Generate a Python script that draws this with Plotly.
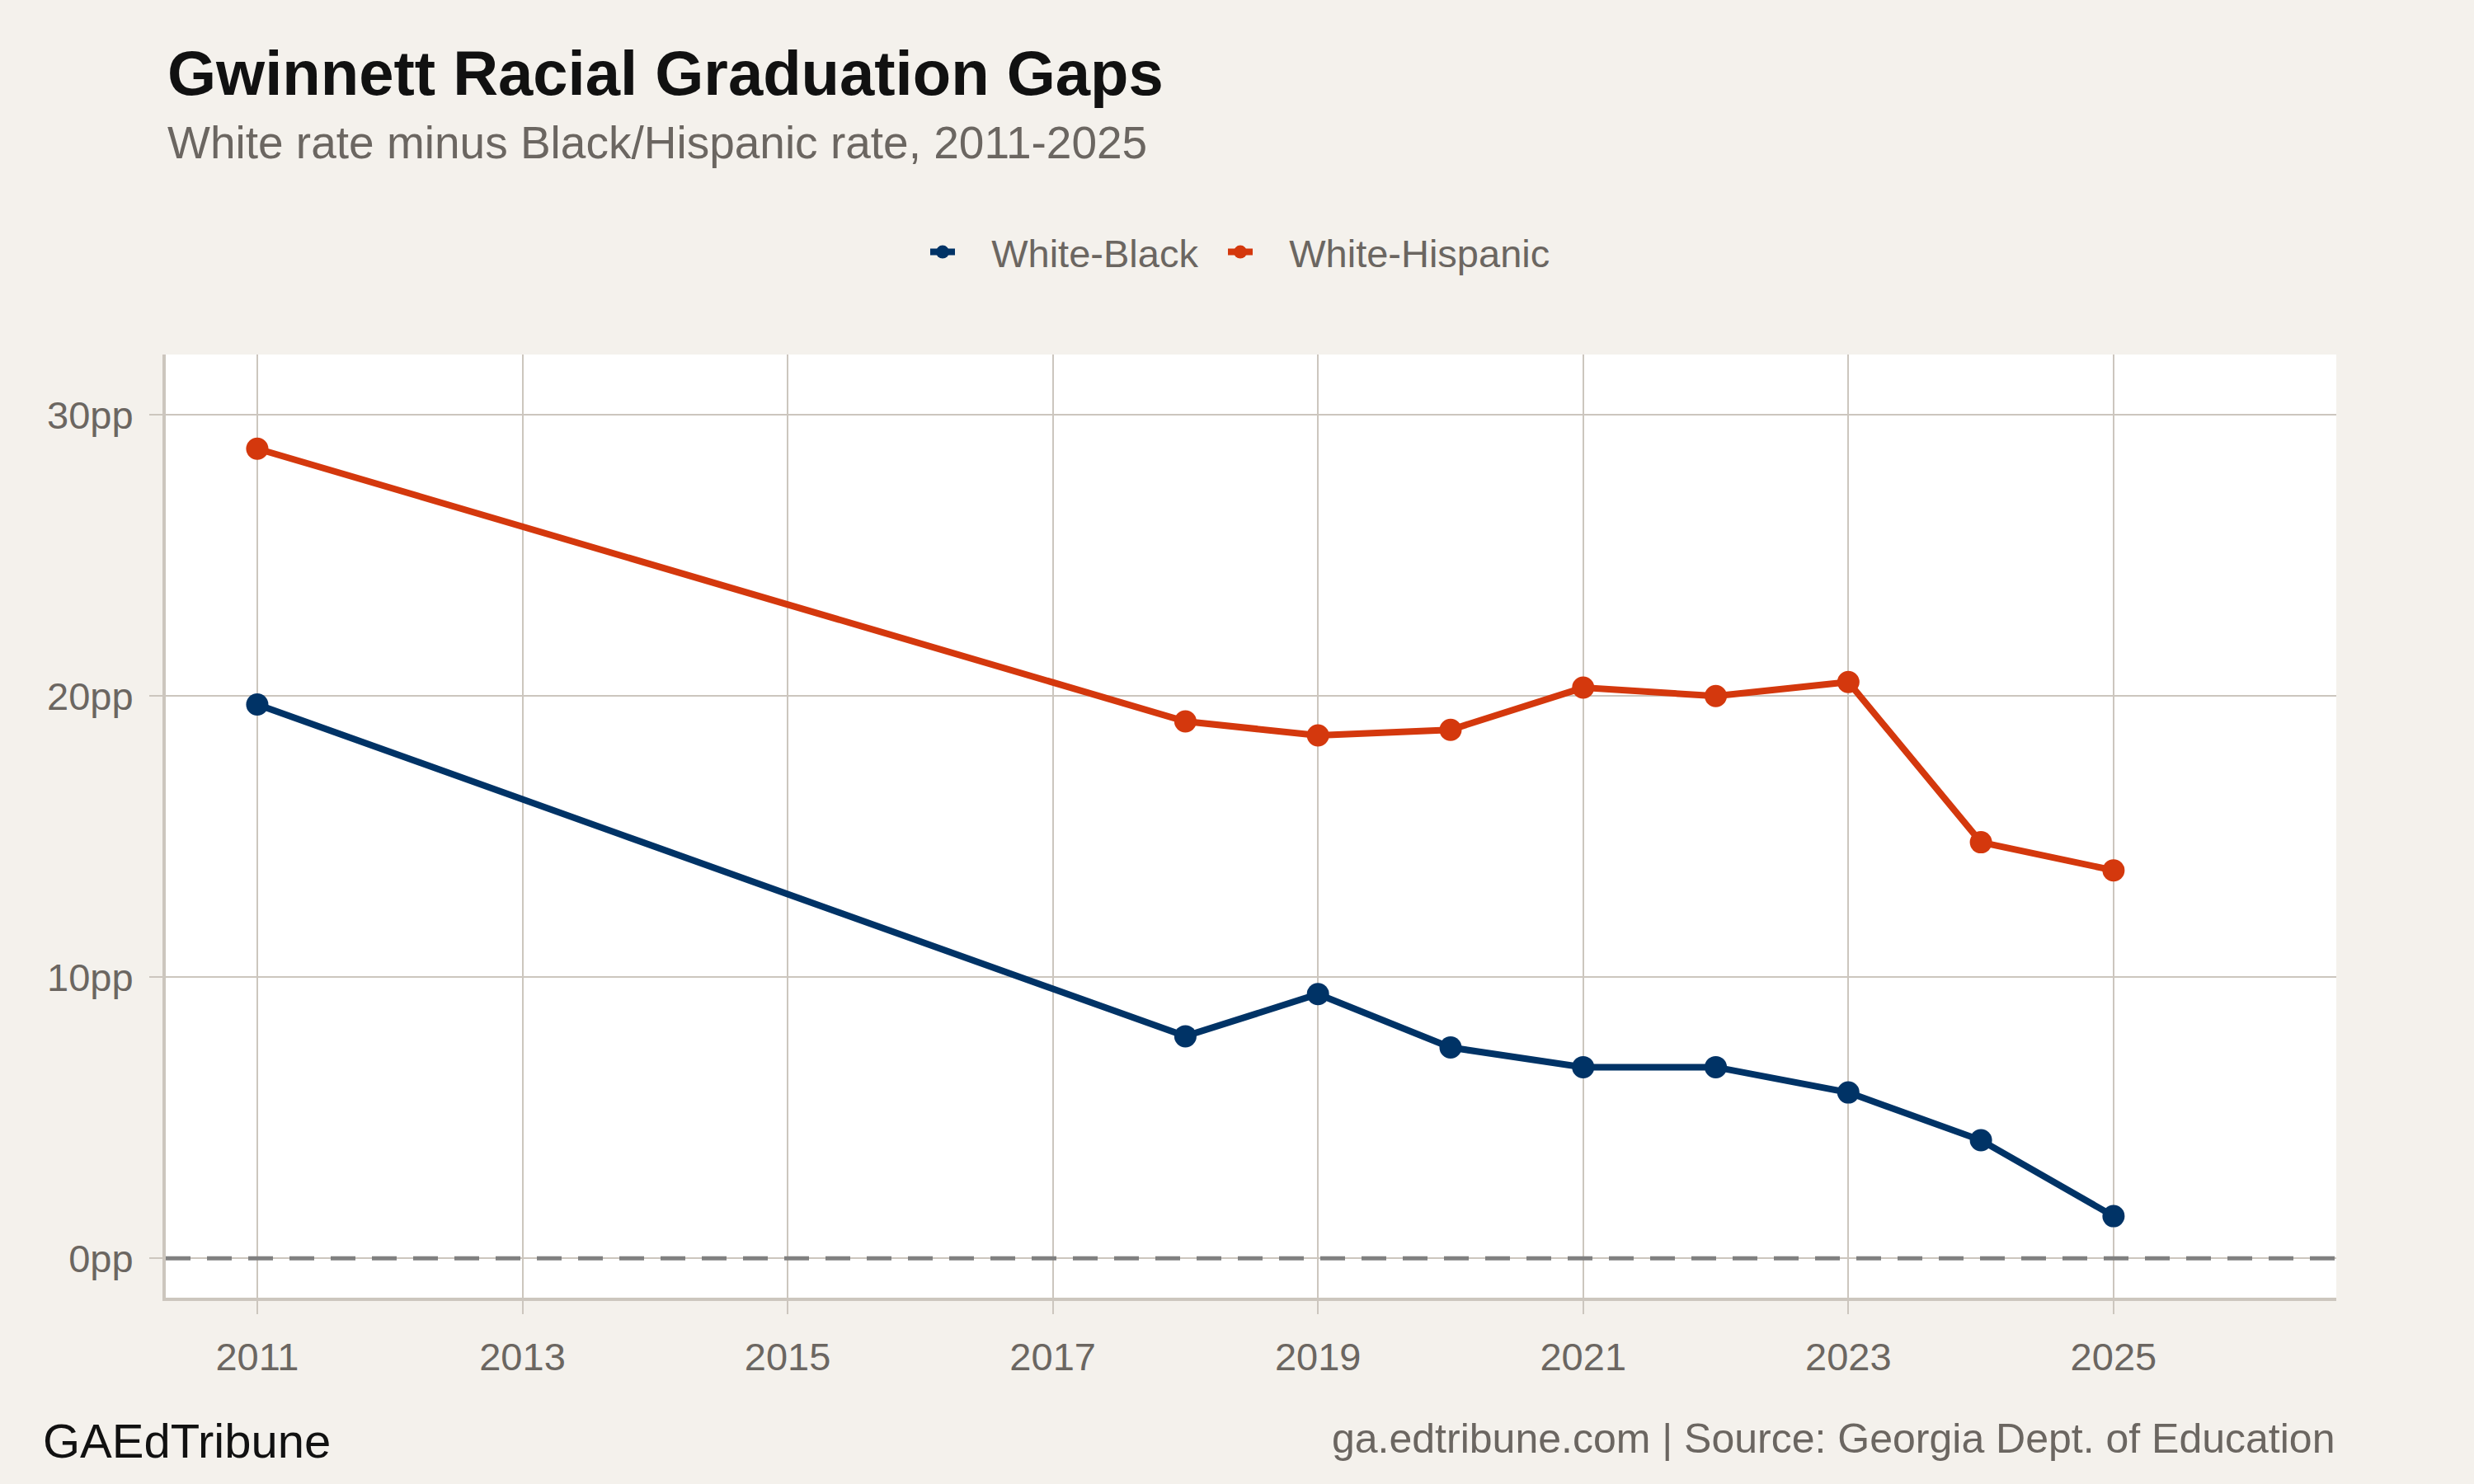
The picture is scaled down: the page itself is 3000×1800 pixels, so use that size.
import plotly.graph_objects as go

years = [2011, 2018, 2019, 2020, 2021, 2022, 2023, 2024, 2025]
white_black = [19.7, 7.9, 9.4, 7.5, 6.8, 6.8, 5.9, 4.2, 1.5]
white_hispanic = [28.8, 19.1, 18.6, 18.8, 20.3, 20.0, 20.5, 14.8, 13.8]
series_names = ["White-Black", "White-Hispanic"]
x_ticks = [2011, 2013, 2015, 2017, 2019, 2021, 2023, 2025]
y_ticks = [0, 10, 20, 30]
y_tick_labels = ["0pp", "10pp", "20pp", "30pp"]

NAVY = "#003366"
ORANGE = "#D4380D"
BG = "#F4F1EC"
GRID = "#CCC6BE"
TXT = "#6B6661"
FONT = "Liberation Sans, Arial, Helvetica, sans-serif"

W, H = 3000, 1800
L, R, T, B = 201, 167, 430, 226
pw, ph = W - L - R, H - T - B

def px_x(x):
    return (x - L) / pw

def px_y(y):
    return (H - B - y) / ph

fig = go.Figure()
for name, vals, col in [(series_names[0], white_black, NAVY), (series_names[1], white_hispanic, ORANGE)]:
    fig.add_trace(go.Scatter(
        x=years, y=vals, name="\u00a0\u00a0\u00a0" + name + "\u00a0\u00a0", mode="lines+markers",
        line=dict(color=col, width=8),
        marker=dict(color=col, size=27),
    ))

fig.add_hline(y=0, line=dict(color="#808080", width=5, dash="30px,20px"))

fig.update_layout(
    width=W, height=H,
    paper_bgcolor=BG, plot_bgcolor="white",
    margin=dict(l=L, r=R, t=T, b=B),
    font=dict(family=FONT, color=TXT, size=47),
    showlegend=True,
    legend=dict(orientation="h", x=0.5, xanchor="center", y=px_y(306), yanchor="middle",
                font=dict(size=47, color=TXT), bgcolor="rgba(0,0,0,0)"),
    xaxis=dict(range=[2010.31, 2026.68], tickvals=x_ticks, ticktext=[str(t) for t in x_ticks],
               showgrid=True, gridcolor=GRID, gridwidth=2, zeroline=False,
               showline=True, linecolor=GRID, linewidth=4,
               ticks="outside", ticklen=16, tickcolor=GRID, tickwidth=2,
               tickfont=dict(size=47, color=TXT), ticklabelstandoff=12),
    yaxis=dict(range=[-1.4, 32.15], tickvals=y_ticks, ticktext=y_tick_labels,
               showgrid=True, gridcolor=GRID, gridwidth=2, zeroline=False,
               showline=True, linecolor=GRID, linewidth=4,
               ticks="outside", ticklen=16, tickcolor=GRID, tickwidth=2,
               tickfont=dict(size=47, color=TXT), ticklabelstandoff=10),
)

fig.add_annotation(text="<b>Gwinnett Racial Graduation Gaps</b>", xref="paper", yref="paper",
                   x=0, y=px_y(88), xanchor="left", yanchor="middle", showarrow=False,
                   font=dict(size=76, color="#111111", family=FONT))
fig.add_annotation(text="White rate minus Black/Hispanic rate, 2011-2025", xref="paper", yref="paper",
                   x=0, y=px_y(173), xanchor="left", yanchor="middle", showarrow=False,
                   font=dict(size=55, color=TXT, family=FONT))
fig.add_annotation(text="GAEdTribune", xref="paper", yref="paper",
                   x=px_x(50), y=px_y(1747), xanchor="left", yanchor="middle", showarrow=False,
                   font=dict(size=58, color="#111111", family=FONT))
fig.add_annotation(text="ga.edtribune.com | Source: Georgia Dept. of Education", xref="paper", yref="paper",
                   x=1, y=px_y(1745), xanchor="right", yanchor="middle", showarrow=False,
                   font=dict(size=50, color=TXT, family=FONT))

fig.write_html("out.html")
